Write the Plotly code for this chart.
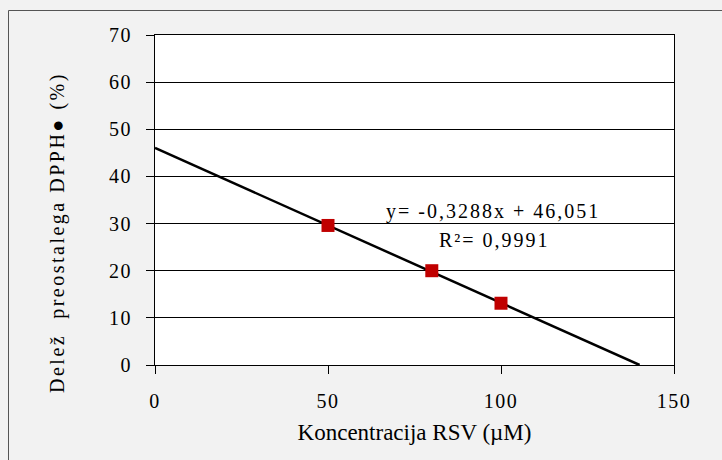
import plotly.graph_objects as go

# Data
conc = [50, 80, 100]
remaining = [29.6, 20.0, 13.1]
slope = -0.3288
intercept = 46.051
x_ticks = [0, 50, 100, 150]
y_ticks = [0, 10, 20, 30, 40, 50, 60, 70]
x_title = "Koncentracija RSV (µM)"
y_title = "Delež  preostalega DPPH● (%)"
eq_text = "y= -0,3288x + 46,051"
r2_text = "R²= 0,9991"

x_end = -intercept / slope
trend_x = [0, x_end]
trend_y = [intercept + slope * v for v in trend_x]

W, H = 722, 460
L, R, T, B = 155, 48, 35, 95
pw, ph = W - L - R, H - T - B

def px_x(px):
    return (px - L) / pw

def px_y(py):
    return (H - B - py) / ph

def spaced(s, ls):
    return f'<span style="letter-spacing:{ls}px">{s}</span>'

FONT = "Liberation Serif, Times New Roman, serif"
tfont = dict(family=FONT, size=20, color="black")

fig = go.Figure()
fig.add_trace(go.Scatter(x=trend_x, y=trend_y, mode="lines",
                         line=dict(color="black", width=2.5), showlegend=False))
fig.add_trace(go.Scatter(x=conc, y=remaining, mode="markers",
                         marker=dict(symbol="square", size=13, color="#c00000",
                                     line=dict(width=0)), showlegend=False))

fig.update_layout(
    width=W, height=H,
    margin=dict(l=L, r=R, t=T, b=B),
    paper_bgcolor="#f2f2f2",
    plot_bgcolor="white",
    font=dict(family=FONT, size=19, color="black"),
    xaxis=dict(range=[0, 150], tickvals=x_ticks,
               ticktext=[spaced(str(v), 1.5) for v in x_ticks],
               showgrid=False, zeroline=False,
               showline=True, linecolor="black", linewidth=1, mirror=True,
               ticks="outside", ticklen=8, tickcolor="black",
               tickfont=tfont, ticklabelstandoff=10,
               title=dict(text=x_title, standoff=12)),
    yaxis=dict(range=[0, 70], tickvals=y_ticks,
               ticktext=[spaced(str(v), 1.5) for v in y_ticks],
               showgrid=True, gridcolor="black",
               gridwidth=1, zeroline=False, showline=True, linecolor="black",
               linewidth=1, mirror=True, ticks="outside", ticklen=8, tickcolor="black",
               tickfont=tfont, ticklabelstandoff=10),
)

# y-axis title (placed as rotated annotation to match the reference offset)
fig.add_annotation(xref="paper", yref="paper", x=px_x(57), y=px_y(233),
                   text=spaced(y_title, 2.5), showarrow=False, textangle=-90,
                   font=dict(family=FONT, size=20),
                   xanchor="center", yanchor="middle")

fig.add_annotation(xref="paper", yref="paper", x=px_x(493), y=px_y(211),
                   text=spaced(eq_text, 2), showarrow=False,
                   font=dict(family=FONT, size=20),
                   xanchor="center", yanchor="middle")
fig.add_annotation(xref="paper", yref="paper", x=px_x(494), y=px_y(240),
                   text=spaced(r2_text, 2), showarrow=False,
                   font=dict(family=FONT, size=20),
                   xanchor="center", yanchor="middle")

fig.add_shape(type="rect", xref="paper", yref="paper",
              x0=px_x(8.5), x1=px_x(740), y0=px_y(480), y1=px_y(10.5),
              line=dict(color="#555555", width=1), layer="below")

fig.write_html("out.html")
